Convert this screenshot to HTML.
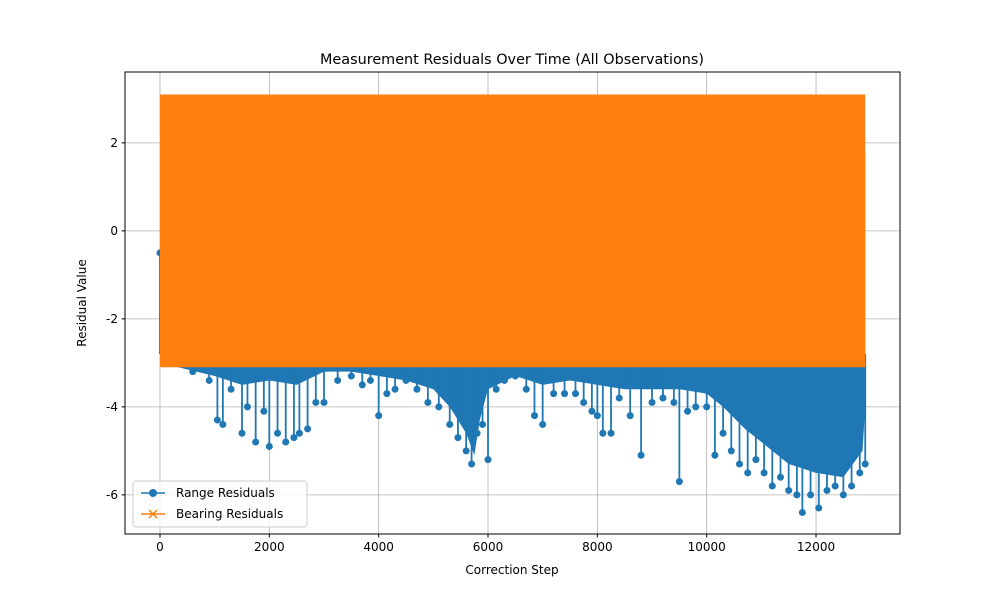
<!DOCTYPE html>
<html><head><meta charset="utf-8"><style>
body{margin:0;background:#fff;font-family:"Liberation Sans","DejaVu Sans",sans-serif}
svg text{font-family:"DejaVu Sans","Liberation Sans",sans-serif;font-size:12px;fill:#000}
</style></head><body>
<svg id="chart" width="1000" height="600" xmlns="http://www.w3.org/2000/svg">
<rect width="1000" height="600" fill="#fff"/>
<g id="grid"></g><g id="series"></g><g id="axes"></g>
</svg>
<script>
const xTicks=[0,2000,4000,6000,8000,10000,12000];
const yTicks=[2,0,-2,-4,-6];
const rangeSteps=[0,300,600,900,1050,1150,1300,1500,1600,1750,1900,2000,2150,2300,2450,2550,2700,2850,3000,3250,3500,3700,3850,4000,4150,4300,4500,4700,4900,5100,5300,5450,5600,5700,5800,5900,6000,6150,6300,6500,6700,6850,7000,7200,7400,7600,7750,7900,8000,8100,8250,8400,8600,8800,9000,9200,9400,9500,9650,9800,10000,10150,10300,10450,10600,10750,10900,11050,11200,11350,11500,11650,11750,11900,12050,12200,12350,12500,12650,12800,12900];
const rangeMin=[-0.5,-3.0,-3.2,-3.4,-4.3,-4.4,-3.6,-4.6,-4.0,-4.8,-4.1,-4.9,-4.6,-4.8,-4.7,-4.6,-4.5,-3.9,-3.9,-3.4,-3.3,-3.5,-3.4,-4.2,-3.7,-3.6,-3.4,-3.6,-3.9,-4.0,-4.4,-4.7,-5.0,-5.3,-4.6,-4.4,-5.2,-3.6,-3.4,-3.3,-3.6,-4.2,-4.4,-3.7,-3.7,-3.7,-3.9,-4.1,-4.2,-4.6,-4.6,-3.8,-4.2,-5.1,-3.9,-3.8,-3.9,-5.7,-4.1,-4.0,-4.0,-5.1,-4.6,-5.0,-5.3,-5.5,-5.2,-5.5,-5.8,-5.6,-5.9,-6.0,-6.4,-6.0,-6.3,-5.9,-5.8,-6.0,-5.8,-5.5,-5.3];
const bodySteps=[0,1000,1500,2000,2500,3000,3500,4000,4500,5000,5300,5600,5750,5850,6000,6500,7000,7500,8000,8500,9000,9500,10000,10300,10700,11000,11500,12000,12500,12850,12900];
const bodyMin=[-3.0,-3.3,-3.5,-3.4,-3.5,-3.2,-3.2,-3.3,-3.4,-3.6,-4.0,-4.6,-5.1,-4.3,-3.6,-3.3,-3.5,-3.4,-3.5,-3.6,-3.6,-3.6,-3.7,-4.0,-4.5,-4.8,-5.3,-5.5,-5.6,-5.0,-4.0];
const bearingSteps=[0,12900];
const bearingMax=[3.1,3.1];
const bearingMin=[-3.1,-3.1];
const L=125,R=900,T=72,B=534,xmin=-640,xmax=13536,ymin=-6.89,ymax=3.61;
const X=v=>L+(v-xmin)/(xmax-xmin)*(R-L);
const Y=v=>T+(ymax-v)/(ymax-ymin)*(B-T);
const NS="http://www.w3.org/2000/svg";
function mk(tag,attrs,parent){const e=document.createElementNS(NS,tag);for(const k in attrs)e.setAttribute(k,attrs[k]);parent.appendChild(e);return e;}
const grid=document.getElementById('grid'),ser=document.getElementById('series'),ax=document.getElementById('axes');
xTicks.forEach(t=>{const l=mk('line',{x1:X(t),x2:X(t),y1:T,y2:B,stroke:'#b0b0b0','stroke-width':0.8},grid);

mk('line',{x1:X(t),x2:X(t),y1:B,y2:B+3.5,stroke:'#000'},ax);
const tx=mk('text',{x:X(t),y:B+17,'text-anchor':'middle'},ax);tx.textContent=t;
});
yTicks.forEach(t=>{const l=mk('line',{x1:L,x2:R,y1:Y(t),y2:Y(t),stroke:'#b0b0b0','stroke-width':0.8},grid);

mk('line',{x1:L-3.5,x2:L,y1:Y(t),y2:Y(t),stroke:'#000'},ax);
const tx=mk('text',{x:L-7,y:Y(t)+4,'text-anchor':'end'},ax);tx.textContent=t;
});
// range body
let pts=bodySteps.map((s,i)=>X(s)+','+Y(bodyMin[i]));
pts.push(X(bodySteps[bodySteps.length-1])+','+Y(1.8));pts.push(X(0)+','+Y(0.6));
const poly=mk('polygon',{points:pts.join(' '),fill:'#1f77b4'},ser);

rangeSteps.forEach((s,i)=>{const st=mk('line',{x1:X(s),x2:X(s),y1:Y(-2.8),y2:Y(rangeMin[i]),stroke:'#1f77b4','stroke-width':1.8},ser);

const c=mk('circle',{cx:X(s),cy:Y(rangeMin[i]),r:3.5,fill:'#1f77b4'},ser);
});
// bearing band
const bp=[X(bearingSteps[0])+','+Y(bearingMax[0]),X(bearingSteps[1])+','+Y(bearingMax[1]),X(bearingSteps[1])+','+Y(bearingMin[1]),X(bearingSteps[0])+','+Y(bearingMin[0])];
const band=mk('polygon',{points:bp.join(' '),fill:'#ff7f0e'},ser);

const frame=mk('rect',{x:L,y:T,width:R-L,height:B-T,fill:'none',stroke:'#000','stroke-width':1},ax);

</script>
<svg style="position:absolute;left:0;top:0" width="1000" height="600">
<text x="512" y="64" text-anchor="middle" style="font-size:14.4px">Measurement Residuals Over Time (All Observations)</text>
<text x="512" y="574" text-anchor="middle">Correction Step</text>
<text transform="translate(86,303) rotate(-90)" text-anchor="middle">Residual Value</text>
<g>
<rect x="133" y="481" width="174" height="46" rx="3" fill="#fff" fill-opacity="0.8" stroke="#ccc"/>
<g><line x1="141" x2="165" y1="493" y2="493" stroke="#1f77b4" stroke-width="1.5"/><circle cx="153" cy="493" r="4" fill="#1f77b4"/><text x="176" y="497">Range Residuals</text></g>
<g><line x1="141" x2="165" y1="514" y2="514" stroke="#ff7f0e" stroke-width="1.5"/><path d="M149 510 l8 8 M157 510 l-8 8" stroke="#ff7f0e" stroke-width="1.5"/><text x="176" y="518">Bearing Residuals</text></g>
</g>
</svg>
</body></html>
